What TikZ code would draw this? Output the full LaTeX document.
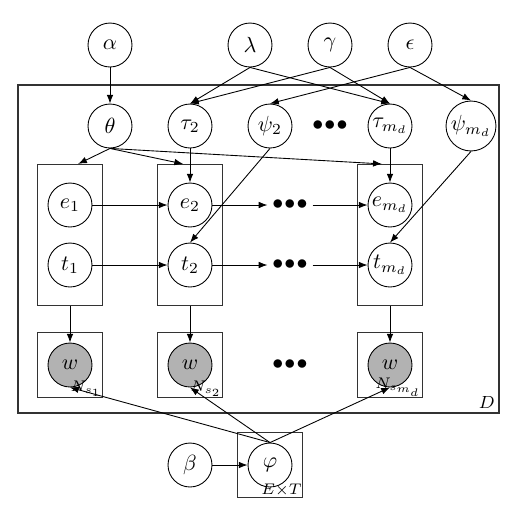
\documentclass[tikz,border=0pt]{standalone}
\usepackage{tikz}
\usetikzlibrary{arrows.meta, positioning, fit, calc}
\usepackage{amsmath}

\tikzset{
  latent/.style={draw, circle, minimum size=0.704cm, inner sep=0.8pt},
  obs/.style={latent, fill=black!30},
  plate/.style={draw=black!80, line width=0.6pt, inner sep=0.16cm},
  platelabel/.style={anchor=south east, inner sep=0.5pt, font=\scriptsize},
  dotsnode/.style={inner sep=2pt},
}

\begin{document}
\begin{tikzpicture}[>={Latex[length=4pt,width=3pt]}, x=0.016cm, y=-0.016cm]
  \useasboundingbox (0,0) rectangle (522,516);

  % Hyperparameters
  \node[latent] (alpha)  at (110,45) {$\alpha$};
  \node[latent] (lambda) at (250,45) {$\lambda$};
  \node[latent] (gamma)  at (330,45) {$\gamma$};
  \node[latent] (eps)    at (410,45) {$\epsilon$};

  % Document level
  \node[latent] (theta) at (110,126) {$\theta$};
  \node[latent] (tau2)  at (190,126) {$\tau_2$};
  \node[latent] (psi2)  at (270,126) {$\psi_2$};
  \node[dotsnode] (dotsA) at (330,126) {$\bullet\!\bullet\!\bullet$};
  \node[latent] (taum)  at (390,126) {$\tau_{m_d}$};
  \node[latent] (psim)  at (471,126) {$\psi_{m_d}$};

  % Sentence level
  \node[latent] (e1) at (70,205) {$e_1$};
  \node[latent] (t1) at (70,265) {$t_1$};
  \node[latent] (e2) at (190,205) {$e_2$};
  \node[latent] (t2) at (190,265) {$t_2$};
  \node[dotsnode] (dotsE) at (290,205) {$\bullet\!\bullet\!\bullet$};
  \node[dotsnode] (dotsT) at (290,265) {$\bullet\!\bullet\!\bullet$};
  \node[latent] (em) at (390,205) {$e_{m_d}$};
  \node[latent] (tm) at (390,265) {$t_{m_d}$};

  % Words
  \node[obs] (w1) at (70,365) {$w$};
  \node[obs] (w2) at (190,365) {$w$};
  \node[dotsnode] (dotsW) at (290,365) {$\bullet\!\bullet\!\bullet$};
  \node[obs] (wm) at (390,365) {$w$};

  % Topic-word
  \node[latent] (beta) at (190,465) {$\beta$};
  \node[latent] (phi)  at (270,465) {$\varphi$};

  % Plates
  \node[plate, fit=(e1)(t1), inner ysep=0.288cm] (plateA) {};
  \node[plate, fit=(e2)(t2), inner ysep=0.288cm] (plateB) {};
  \node[plate, fit=(em)(tm), inner ysep=0.288cm] (plateM) {};
  \node[plate, fit=(w1)] (platewA) {};
  \node[plate, fit=(w2)] (platewB) {};
  \node[plate, fit=(wm)] (platewM) {};
  \node[platelabel] (labA) at (platewA.south east) {$N_{s_1}$};
  \node[platelabel] (labB) at (platewB.south east) {$N_{s_2}$};
  \node[platelabel] (labM) at (platewM.south east) {$N_{s_{m_d}}$};
  \coordinate (dA) at (18,85);
  \coordinate (dB) at (499,413);
  \node[plate, inner sep=0pt, fit=(dA)(dB)] (plateD) {};
  \node[platelabel, font=\footnotesize, inner sep=2pt] (labD) at (plateD.south east) {$D$};
  \node[plate, fit=(phi)] (platePhi) {};
  \node[platelabel] (labPhi) at (platePhi.south east) {$E{\times}T$};

  % Edges
  \draw[->] (alpha) -- (theta);
  \draw[->] (lambda.south) -- (tau2.north);
  \draw[->] (lambda.south) -- (taum.north);
  \draw[->] (gamma.south) -- (tau2.north);
  \draw[->] (gamma.south) -- (taum.north);
  \draw[->] (eps.south) -- (psi2.north);
  \draw[->] (eps.south) -- (psim.north);
  \draw[->] (theta.south) -- ([xshift=0.13cm]plateA.north);
  \draw[->] (theta.south) -- ([xshift=-0.11cm]plateB.north);
  \draw[->] (theta.south) -- ([xshift=-0.13cm]plateM.north);
  \draw[->] (tau2) -- (e2);
  \draw[->] (taum) -- (em);
  \draw[->] (psi2.south) -- (t2.north);
  \draw[->] (psim.south) -- (tm.north);
  \foreach \a/\b in {e1/e2, e2/dotsE, dotsE/em, t1/t2, t2/dotsT, dotsT/tm}
    \draw[->] (\a) -- (\b);
  \draw[->] (plateA) -- (w1);
  \draw[->] (plateB) -- (w2);
  \draw[->] (plateM) -- (wm);
  \draw[->] (beta) -- (phi);
  \foreach \w in {w1, w2, wm}
    \draw[->] (phi.north) -- (\w.south);
\end{tikzpicture}
\end{document}
